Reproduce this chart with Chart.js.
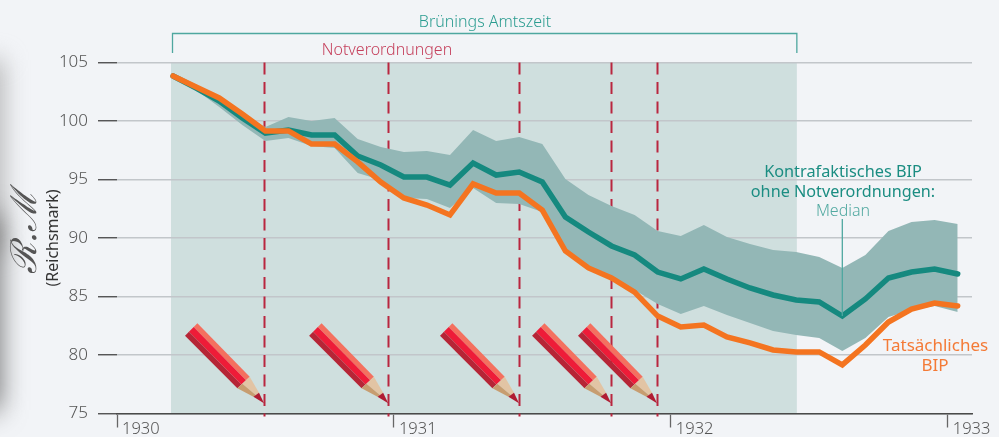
<!DOCTYPE html>
<html lang="de"><head><meta charset="utf-8"><title>Brünings Notverordnungen</title>
<script src="https://cdn.jsdelivr.net/npm/chart.js@4"></script>
<style>
html,body{margin:0;padding:0;background:#f2f4f7;overflow:hidden;width:999px;height:437px}
#fold{position:absolute;left:-26px;top:215px;width:24px;height:195px;background:#555;filter:blur(14px)}
#fold2{position:absolute;left:-18px;top:60px;width:20px;height:190px;background:#aaa;filter:blur(12px)}
canvas{position:absolute;left:0;top:0}
</style></head><body>
<div id="fold2"></div><div id="fold"></div>
<canvas id="c" width="999" height="437"></canvas>
<script>
// months since January 1930
const months = [2.43,3.43,4.43,5.43,6.43,7.43,8.43,9.43,10.43,11.43,12.43,13.43,14.43,15.43,16.43,17.43,18.43,19.43,20.43,21.43,22.43,23.43,24.43,25.43,26.43,27.43,28.43,29.43,30.43,31.43,32.43,33.43,34.43,35.43,36.43];
const medianGdp = [103.85,102.82,101.71,100.26,98.97,99.23,98.80,98.80,97.01,96.24,95.21,95.21,94.53,96.41,95.38,95.64,94.79,91.79,90.51,89.32,88.55,87.09,86.50,87.35,86.50,85.73,85.13,84.70,84.53,83.33,84.79,86.58,87.09,87.35,86.92];
const actualGdp = [103.85,102.91,101.97,100.60,99.15,99.15,98.03,98.03,96.50,94.79,93.42,92.82,91.97,94.62,93.85,93.85,92.39,88.89,87.44,86.58,85.38,83.33,82.39,82.56,81.54,81.03,80.43,80.26,80.26,79.15,80.85,82.82,83.93,84.44,84.19];
const bandUpper = [103.85,102.99,101.88,100.51,99.49,100.34,100.00,100.26,98.46,97.78,97.35,97.44,97.09,99.23,98.29,98.63,98.03,95.04,93.68,92.74,91.97,90.60,90.17,91.11,90.09,89.49,88.97,88.80,88.38,87.44,88.55,90.60,91.37,91.54,91.20];
const bandLower = [103.85,102.65,101.20,99.66,98.29,98.55,97.86,97.69,95.56,94.96,93.42,93.33,92.56,94.27,92.99,92.91,92.22,88.97,87.61,86.58,85.56,84.36,83.50,84.19,83.42,82.74,82.05,81.71,81.45,80.34,81.45,83.25,83.85,84.19,83.68];
const decreeMonths = [6.37,11.75,17.42,21.41,23.40];
const chancellorship = [2.34,29.46];
const medianPointerMonth = 31.43;
const yearTicks = [1930,1931,1932,1933];

const FONT = '"Noto Sans","Open Sans",sans-serif';
const pts = a => a.map((y,i)=>({x:months[i],y}));

function pencil(ctx,tx,ty){
  const p=(c,l)=>{ctx.fillStyle=c;ctx.beginPath();l.forEach((q,i)=>{const X=tx+q[0],Y=ty+q[1];i?ctx.lineTo(X,Y):ctx.moveTo(X,Y)});ctx.closePath();ctx.fill();};
  const A=[-66.6,-80],B=[-79,-67.6],C=[-14.3,-26.6],D=[-26.6,-15];
  const m=(u,v,t)=>[u[0]+(v[0]-u[0])*t,u[1]+(v[1]-u[1])*t];
  p('#f4705f',[A,C,m(C,D,.3),m(A,B,.3)]);
  p('#ee1c38',[m(A,B,.3),m(C,D,.3),m(C,D,.68),m(A,B,.68)]);
  p('#b62536',[m(A,B,.68),m(C,D,.68),D,B]);
  p('#e2c4a4',[C,m(C,D,.6),[-8,-8],[-5,-10.6]]);
  p('#c79d70',[m(C,D,.6),D,[-10.6,-6.6],[-8,-8]]);
  p('#b01c32',[[-5,-10.6],[-10.6,-6.6],[0,0]]);
}

const decor = {
  id:'decor',
  beforeDraw(ch){
    const {ctx,scales:{x,y}}=ch;
    const l=x.getPixelForValue(chancellorship[0]),r=x.getPixelForValue(chancellorship[1]);
    ctx.save();ctx.fillStyle='#cfdfde';
    ctx.fillRect(l,y.getPixelForValue(105),r-l,y.getPixelForValue(75)-y.getPixelForValue(105));
    ctx.restore();
  },
  beforeDatasetsDraw(ch){
    const {ctx,scales:{x,y}}=ch;
    ctx.save();ctx.strokeStyle='#b9263f';ctx.lineWidth=2;ctx.setLineDash([12,7.5]);
    decreeMonths.forEach(m=>{const X=Math.round(x.getPixelForValue(m))+.5;
      ctx.beginPath();ctx.moveTo(X,y.getPixelForValue(105));ctx.lineTo(X,y.getPixelForValue(75)+3);ctx.stroke();});
    ctx.restore();
  },
  afterDatasetsDraw(ch){
    const {ctx,scales:{x,y}}=ch;
    ctx.save();
    const tipY=y.getPixelForValue(75)-10.2;
    decreeMonths.forEach(m=>pencil(ctx,x.getPixelForValue(m),tipY));
    const l=x.getPixelForValue(chancellorship[0])+1.5,r=x.getPixelForValue(chancellorship[1]);
    ctx.strokeStyle='#4ea79f';ctx.lineWidth=1.3;
    ctx.beginPath();ctx.moveTo(l,53);ctx.lineTo(l,33.5);ctx.lineTo(r,33.5);ctx.lineTo(r,53);ctx.stroke();
    const px=x.getPixelForValue(medianPointerMonth);
    ctx.beginPath();ctx.moveTo(px,219);ctx.lineTo(px,y.getPixelForValue(medianGdp[29]));ctx.stroke();
    ctx.textAlign='center';ctx.textBaseline='middle';
    const T=(s,X,Y,c,f)=>{ctx.fillStyle=c;ctx.font=f;ctx.fillText(s,X,Y);};
    T('Brünings Amtszeit',485,22,'#2b9c90','300 16px '+FONT);
    T('Notverordnungen',387,50,'#c5405c','300 16px '+FONT);
    T('Kontrafaktisches BIP',843,172,'#1b8d82','16.3px '+FONT);
    T('ohne Notverordnungen:',843,192,'#1b8d82','16.2px '+FONT);
    T('Median',843,211,'#52a9a1','300 16px '+FONT);
    T('Tatsächliches',935.5,346,'#f47a36','17px '+FONT);
    T('BIP',935,366,'#f47a36','17px '+FONT);
    ctx.save();ctx.translate(53,238);ctx.rotate(-Math.PI/2);
    T('(Reichsmark)',0,0,'#333','16px '+FONT);ctx.restore();
    ctx.save();ctx.translate(27,232);ctx.rotate(-Math.PI/2);
    T('ℛ.ℳ',0,0,'#555','italic 36px "DejaVu Serif","Liberation Serif",serif');ctx.restore();
    ctx.restore();
  }
};

new Chart(document.getElementById('c'),{
  type:'line',
  data:{datasets:[
    {label:'Tatsächliches BIP',data:pts(actualGdp),borderColor:'#f47420',borderWidth:5.5,borderCapStyle:'round',borderJoinStyle:'miter',pointRadius:0,fill:false,tension:0},
    {label:'Median',data:pts(medianGdp),borderColor:'#15897f',borderWidth:5.5,borderCapStyle:'round',borderJoinStyle:'miter',pointRadius:0,fill:false,tension:0},
    {label:'Oben',data:pts(bandUpper),borderWidth:0,borderColor:'transparent',backgroundColor:'#93b7b6',pointRadius:0,fill:'+1',tension:0},
    {label:'Unten',data:pts(bandLower),borderWidth:0,borderColor:'transparent',pointRadius:0,fill:false,tension:0}
  ]},
  options:{
    responsive:false,animation:false,
    layout:{padding:{left:0,top:62.5,right:27,bottom:0}},
    plugins:{legend:{display:false},tooltip:{enabled:false}},
    scales:{
      x:{type:'linear',min:0,max:37.05,
        afterFit(s){s.height=23.5;},
        border:{display:true,color:'#4a4a4a',width:1.5},
        grid:{drawOnChartArea:false,drawTicks:true,tickLength:14,tickColor:'#666',tickWidth:1.3},
        ticks:{stepSize:12,includeBounds:false,autoSkip:false,maxRotation:0,align:'start',labelOffset:5,padding:-8,color:'#555',
          font:{family:FONT,size:16.5,weight:'300'},callback:v=>yearTicks[v/12]}},
      y:{min:75,max:105,
        afterFit(s){s.width=117;},
        border:{display:false},
        grid:{color:'#c2c6ca',lineWidth:1.5,tickColor:'#444',tickLength:19,tickWidth:1.3},
        ticks:{stepSize:5,padding:10,color:'#555',font:{family:FONT,size:17,weight:'300'}}}
    }
  },
  plugins:[decor]
});
</script></body></html>
